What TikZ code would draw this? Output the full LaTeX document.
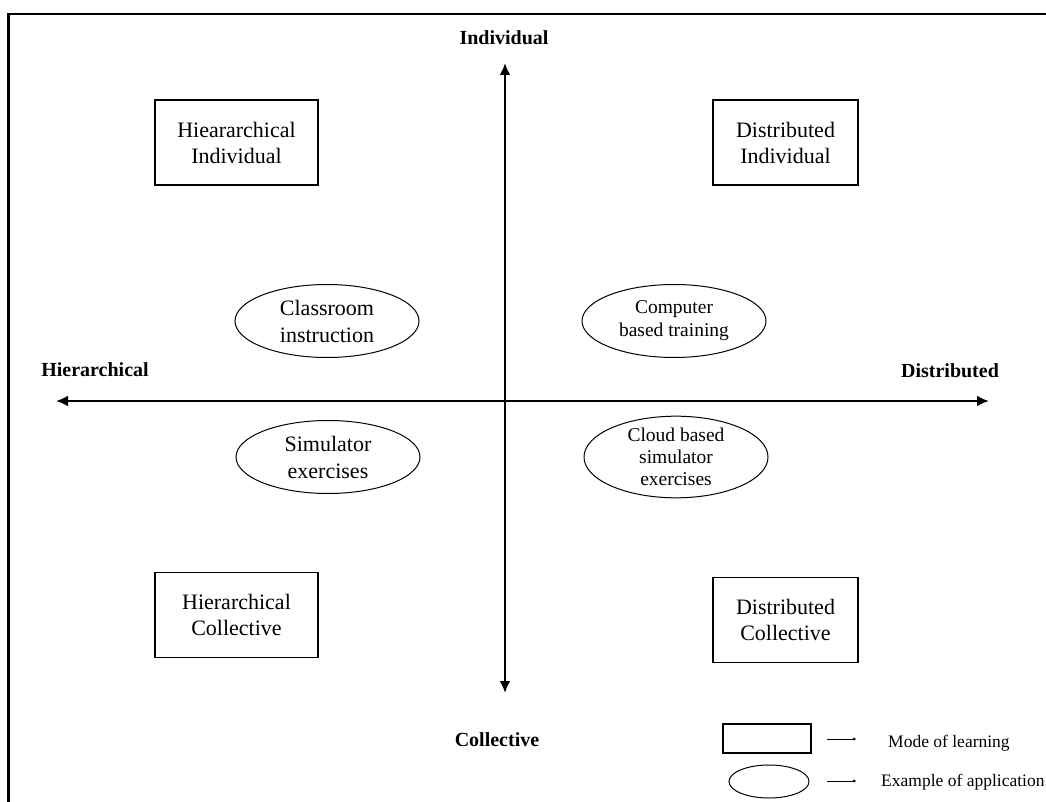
\documentclass[tikz,border=0pt]{standalone}
\usepackage{fontspec}
\setmainfont{Liberation Serif}
\usetikzlibrary{shapes.geometric,arrows.meta}
\begin{document}
\begin{tikzpicture}[x=1pt,y=-1pt,
  modebox/.style={draw,line width=1.8pt,minimum width=#1,minimum height=85pt,inner sep=0pt,align=center,font=\fontsize{22}{26}\selectfont},
  modebox/.default=150pt,
  appl/.style={draw,line width=1pt,ellipse,minimum width=184pt,minimum height=73pt,inner sep=0pt,align=center},
  bigtxt/.style={font=\fontsize{22}{27}\selectfont},
  smalltxt/.style={font=\fontsize{19.5}{23}\selectfont},
  axislabel/.style={anchor=base,inner sep=0pt,font=\fontsize{20}{24}\selectfont\bfseries},
  axis/.style={line width=2.8pt,{Latex[length=12pt,width=11pt]}-{Latex[length=12pt,width=11pt]}},
  legendarrow/.style={line width=0.8pt,-{Latex[length=4pt,width=3pt]}},
  legendtxt/.style={anchor=base west,inner sep=0pt,font=\fontsize{17.5}{20}\selectfont}]
\useasboundingbox (0,0) rectangle (1046,802);
\fill[white] (0,0) rectangle (1046,802);
% outer frame
\draw[line width=2.8pt] (1060,14) -- (8.5,14) -- (8.5,820);

% axes
\coordinate (ytop) at (505,63);
\coordinate (ybot) at (505,693);
\coordinate (xleft) at (56,401);
\coordinate (xright) at (989,401);
\draw[axis] (ybot) -- (ytop);
\draw[axis] (xleft) -- (xright);

\node[axislabel] (lind) at (504,45) {Individual};
\node[axislabel] (lcol) at (497,746) {Collective};
\node[axislabel] (lhie) at (95,376) {Hierarchical};
\node[axislabel] (ldis) at (950,377) {Distributed};

% modes of learning
\node[modebox=163pt] (hi) at (236.5,142.5) {Hieararchical\\Individual};
\node[modebox=145pt] (di) at (785.5,142.5) {Distributed\\Individual};
\node[modebox=163pt] (hc) at (236.5,615) {Hierarchical\\Collective};
\node[modebox=145pt] (dc) at (785.5,620) {Distributed\\Collective};

% examples of application
\node[appl,bigtxt] (cls) at (327,321) {Classroom\\instruction};
\node[appl,smalltxt] (cbt) at (674,321) {Computer\\based training};
\node[appl,bigtxt] (sim) at (328,457) {Simulator\\exercises};
\node[appl,smalltxt,font=\fontsize{19.5}{22}\selectfont] (cld) at (676,457) {Cloud based\\simulator\\exercises};

% legend
\node[draw,line width=1.8pt,minimum width=88pt,minimum height=29pt,inner sep=0pt] (kbox) at (767,738.5) {};
\node[draw,line width=1pt,ellipse,minimum width=80pt,minimum height=33pt,inner sep=0pt] (kell) at (769,781.5) {};
\coordinate (ka1) at (827,739);
\coordinate (kb1) at (857,739);
\coordinate (ka2) at (827,781);
\coordinate (kb2) at (857,781);
\draw[legendarrow] (ka1) -- (kb1);
\draw[legendarrow] (ka2) -- (kb2);
\node[legendtxt] (kt1) at (888,747) {Mode of learning};
\node[legendtxt] (kt2) at (881,786) {Example of application};
\end{tikzpicture}
\end{document}
